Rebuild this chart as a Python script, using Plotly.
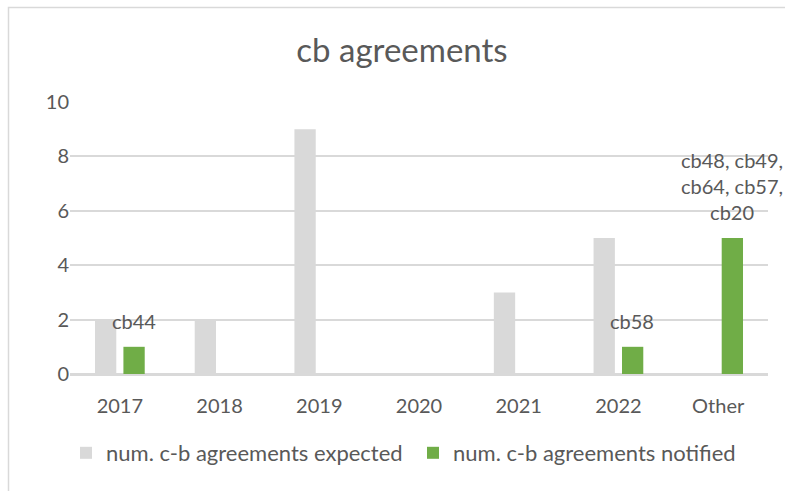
import plotly.graph_objects as go

categories = ["2017", "2018", "2019", "2020", "2021", "2022", "Other"]
expected = [2, 2, 9, 0, 3, 5, 0]
notified = [1, 0, 0, 0, 0, 1, 5]
notified_labels = ["cb44", "", "", "", "", "cb58", "cb48, cb49,<br>cb64, cb57,<br>cb20"]

FONT = "Lato"
TXT = "#595959"
GRID = "#D9D9D9"

fig = go.Figure()
fig.add_trace(go.Bar(x=categories, y=expected, name="num. c-b agreements expected",
                     marker=dict(color="#D9D9D9", line=dict(width=0))))
fig.add_trace(go.Bar(x=categories, y=notified, name="num. c-b agreements notified",
                     marker=dict(color="#70AD47", line=dict(width=0))))

# label above each green bar (category index position, shifted onto the green bar)
for i, (v, t) in enumerate(zip(notified, notified_labels)):
    if t:
        fig.add_annotation(x=i, y=v, xref="x", yref="y", text=t, showarrow=False,
                           xanchor="center", yanchor="bottom", yshift=12, xshift=14,
                           font=dict(family=FONT, size=20, color=TXT))

L, R, T, B = 70, 768, 102, 374
W, H = 785, 491
pw, ph = R - L, B - T
def px2x(px): return (px - L) / pw
def px2y(py): return 1 - (py - T) / ph

fig.add_shape(type="rect", xref="paper", yref="paper",
              x0=px2x(8.5), x1=px2x(800), y0=px2y(7.5), y1=px2y(520),
              line=dict(color=GRID, width=1.5), fillcolor="rgba(0,0,0,0)", layer="below")

fig.update_layout(
    width=W, height=H,
    margin=dict(l=L, r=W - R, t=T, b=H - B, pad=0, autoexpand=False),
    paper_bgcolor="white", plot_bgcolor="white",
    barmode="group", bargap=0.43, bargroupgap=0.25,
    title=dict(text="cb agreements", x=402 / W, xref="container", xanchor="center",
               y=1 - 50 / H, yanchor="middle",
               font=dict(family=FONT, size=33, color=TXT)),
    font=dict(family=FONT, size=20, color=TXT),
    legend=dict(orientation="h", x=66 / W, xref="container", xanchor="left",
                y=1 - 453 / H, yref="container", yanchor="middle",
                font=dict(family=FONT, size=22, color=TXT),
                entrywidth=302, traceorder="normal"),
    showlegend=True,
)
fig.update_xaxes(type="category", range=[-0.5, len(categories) - 0.5],
                 showgrid=False, showline=True, linecolor=GRID, linewidth=1.5,
                 ticks="outside", ticklen=13, tickcolor="rgba(0,0,0,0)",
                 tickfont=dict(size=20, color=TXT))
fig.update_yaxes(range=[0, 10], dtick=2, showgrid=True, gridcolor=GRID, gridwidth=1.5,
                 zeroline=True, zerolinecolor=GRID, zerolinewidth=1.5,
                 showline=False, ticks="",
                 tickfont=dict(size=20, color=TXT))

fig.write_html("out.html", config={"displayModeBar": False},
               post_script="document.body.style.margin='0';")
